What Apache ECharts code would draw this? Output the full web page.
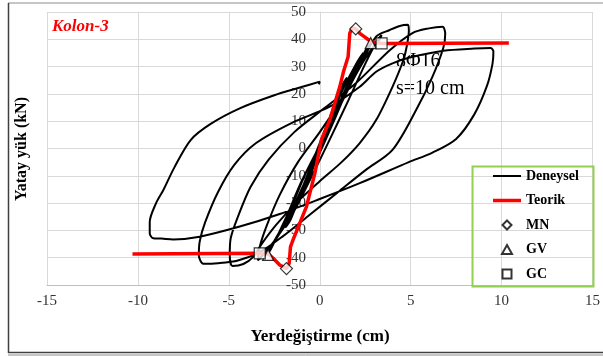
<!DOCTYPE html>
<html>
<head>
<meta charset="utf-8">
<script src="https://cdn.jsdelivr.net/npm/echarts@6/dist/echarts.min.js"></script>
<style>
html, body { margin: 0; padding: 0; background: #fff; }
#chart { width: 603px; height: 356px; }
</style>
</head>
<body>
<div id="chart"></div>
<script>
// Deneysel curve, [yerdegistirme cm, yuk kN], split by cycle
const smallCycles = [
  [0, 0], [0.3, 5], [0.7, 12], [0.9, 16], [0.6, 12], [0.1, 3], [-0.4, -6], [-0.8, -13], [-1.0, -17], [-0.7, -13], [-0.2, -4],
  [0.4, 8], [1.0, 18], [1.5, 26], [1.3, 24], [0.7, 14], [0, 2], [-0.7, -10], [-1.4, -22], [-1.9, -29], [-1.6, -26], [-0.9, -14], [-0.2, -2],
  [0.6, 11], [1.3, 22], [2.0, 31], [2.4, 35], [2.1, 32], [1.3, 20], [0.4, 6], [-0.6, -9], [-1.5, -22], [-2.2, -31], [-2.7, -36], [-2.4, -33], [-1.6, -22], [-0.7, -8],
  [0.3, 5], [1.1, 17], [1.9, 28], [2.5, 35], [2.8, 38.5], [2.6, 37], [1.8, 26], [0.9, 12], [-0.1, -3], [-1.1, -17], [-2.0, -28], [-2.6, -35], [-2.9, -39], [-2.7, -37], [-1.9, -26], [-1.0, -12],
  [0, 1], [1.0, 14], [1.9, 26], [2.7, 35], [3.3, 40], [3.4, 41.5], [3.2, 40], [2.5, 31], [1.6, 18], [0.6, 4], [-0.5, -11], [-1.5, -24], [-2.4, -33], [-3.0, -38], [-3.4, -41]
]
const cycle1 = [
  [-3.3, -36], [-2.9, -28], [-2.2, -17], [-1.2, -5], [0, 6], [1.2, 18], [2.2, 30], [3.1, 41], [3.85, 43.4], [4.4, 44.9], [4.85, 45.3],
  [4.9, 43], [4.8, 38], [4.6, 32.4], [4.0, 22.6], [3.1, 10.4], [2.2, 2], [1.2, -5], [0, -12], [-1.3, -20], [-2.4, -28], [-3.2, -35], [-3.7, -40], [-4.2, -42.3], [-4.8, -43]
]
const cycle2 = [
  [-4.95, -39], [-4.9, -33], [-4.5, -25], [-3.8, -14], [-2.8, -4], [-1.4, 6], [0.3, 15], [2, 24], [3.85, 36], [5.1, 42.3], [6.0, 44], [6.75, 44.6],
  [6.9, 42], [6.8, 37], [6.2, 26.3], [5.3, 14.1], [4.0, -0.5], [2.5, -8], [1, -16], [-0.5, -24], [-2, -32], [-3.3, -38], [-4.5, -41], [-5.6, -42], [-6.4, -42.2]
]
const cycle3 = [
  [-6.65, -39], [-6.6, -34], [-6.3, -27], [-5.6, -16], [-4.7, -6], [-3.5, 2], [-1.5, 9.5], [0.55, 15.3], [2.2, 22.6], [3.1, 28.1], [4.0, 31.2], [4.95, 33.3], [6.8, 35.8], [8.5, 36.6], [9.4, 36.8],
  [9.55, 35.5], [9.5, 31], [9.2, 23], [8.5, 12.5], [7.5, 3.5], [6.2, -1.5], [4.9, -5], [2.2, -12.7], [0, -18.5], [-2.2, -24], [-4.4, -28.6], [-6.6, -32.3], [-8.06, -33.3], [-8.7, -33], [-9.16, -32.9],
  [-9.35, -31], [-9.35, -27], [-9.0, -20], [-8.6, -15.2], [-8.0, -7], [-7.1, 3.1], [-6.0, 9], [-4.4, 14.7], [-2.5, 19.5], [-1, 22.5], [0, 24.5], [-0.05, 23.5]
]
const teorik = [
  [-10.3, -38.6], [-3.3, -38.4], [-2.8, -38.8], [-2.56, -40.2], [-2.2, -42.7], [-1.83, -44], [-1.68, -42], [-1.61, -36], [-1.47, -33.5],
  [-0.73, -21.3], [-0.27, -9.1], [0.09, 3.1], [0.55, 10.4], [1.1, 22.6], [1.3, 28], [1.56, 33.6], [1.65, 42.2], [1.8, 44.2], [1.98, 43.8],
  [2.2, 42.2], [2.56, 40.4], [2.84, 39.1], [3.4, 38.5], [10.4, 38.6]
]
const mnPoints = [[1.98, 43.8], [-1.83, -44]]
const gvPoints = [[2.8, 38.6], [-2.84, -39]]
const gcPoints = [[3.4, 38.5], [-3.3, -38.4]]

const deneysel = smallCycles.concat(cycle1, cycle2, cycle3)

const serif = 'Liberation Serif'
const chart = echarts.init(document.getElementById('chart'))

const markerStyle = { color: '#fff', borderColor: '#000', borderWidth: 1.2 }

const option = {
  animation: false,
  grid: { left: 47, right: 10, top: 12, bottom: 71 },
  xAxis: {
    type: 'value',
    min: -15,
    max: 15,
    interval: 5,
    axisLine: { onZero: false, lineStyle: { color: '#bfbfbf' } },
    axisTick: { show: false },
    axisLabel: { color: '#333', fontFamily: serif, fontSize: 15, margin: 9 },
    splitLine: { lineStyle: { color: '#d9d9d9' } }
  },
  yAxis: {
    type: 'value',
    min: -50,
    max: 50,
    interval: 10,
    offset: -273, // put the axis at x = 0
    axisLine: { show: true, onZero: false, lineStyle: { color: '#d9d9d9' } },
    axisTick: { show: false },
    axisLabel: { color: '#333', fontFamily: serif, fontSize: 15, margin: 14 },
    splitLine: { lineStyle: { color: '#d9d9d9' } }
  },
  legend: {
    orient: 'vertical',
    left: 488,
    top: 164,
    itemWidth: 28,
    itemHeight: 9,
    itemGap: 10.5,
    symbolKeepAspect: true,
    textStyle: { fontFamily: serif, fontWeight: 'bold', fontSize: 14, color: '#000' },
    data: [
      { name: 'Deneysel', icon: 'path://M0,0L28,0L28,2L0,2Z' },
      { name: 'Teorik', icon: 'path://M0,0L28,0L28,3.5L0,3.5Z' },
      { name: 'MN', icon: 'path://M5,0L10,5L5,10L0,5Z' },
      { name: 'GV', icon: 'path://M5,0L10,9L0,9Z' },
      { name: 'GC', icon: 'path://M0,0L9,0L9,9L0,9Z' }
    ]
  },
  graphic: [
    // outer chart frame
    { type: 'line', shape: { x1: 8, y1: 3, x2: 603, y2: 3 }, style: { stroke: '#8c8c8c', lineWidth: 1 } },
    { type: 'line', shape: { x1: 8.5, y1: 3, x2: 8.5, y2: 353 }, style: { stroke: '#404040', lineWidth: 1.5 } },
    { type: 'line', shape: { x1: 8, y1: 352.5, x2: 603, y2: 352.5 }, style: { stroke: '#404040', lineWidth: 1.5 } },
    { type: 'line', shape: { x1: 8, y1: 355, x2: 603, y2: 355 }, style: { stroke: '#8c8c8c', lineWidth: 1 } },
    // legend box
    { type: 'rect', shape: { x: 472.5, y: 166.5, width: 121, height: 120 }, style: { fill: 'none', stroke: '#92d050', lineWidth: 2 }, z: 10 },
    {
      type: 'text', x: 52, y: 27,
      style: { text: 'Kolon-3', fill: '#ff0000', font: 'italic bold 17px "Liberation Serif"', textVerticalAlign: 'middle' }
    },
    {
      type: 'text', x: 396, y: 62,
      style: { text: '8Φ16', fill: '#000', font: '20px "Liberation Serif"', textVerticalAlign: 'middle' }
    },
    {
      type: 'text', x: 396, y: 89,
      style: { text: 's=10 cm', fill: '#000', font: '20px "Liberation Serif"', textVerticalAlign: 'middle' }
    },
    {
      type: 'text', x: 22, y: 149, rotation: Math.PI / 2,
      style: { text: 'Yatay yük (kN)', fill: '#000', font: 'bold 16px "Liberation Serif"', textAlign: 'center', textVerticalAlign: 'middle' }
    },
    {
      type: 'text', x: 320, y: 337,
      style: { text: 'Yerdeğiştirme (cm)', fill: '#000', font: 'bold 17px "Liberation Serif"', textAlign: 'center', textVerticalAlign: 'middle' }
    }
  ],
  series: [
    {
      name: 'Deneysel',
      type: 'line',
      data: deneysel,
      symbol: 'none',
      smooth: 0.3,
      lineStyle: { color: '#000', width: 2 },
      itemStyle: { color: '#000' }
    },
    {
      name: 'Teorik',
      type: 'line',
      data: teorik,
      symbol: 'none',
      lineStyle: { color: '#ff0000', width: 3.5 },
      itemStyle: { color: '#ff0000' }
    },
    { name: 'MN', type: 'scatter', data: mnPoints, symbol: 'diamond', symbolSize: 12, itemStyle: markerStyle, z: 5 },
    { name: 'GV', type: 'scatter', data: gvPoints, symbol: 'triangle', symbolSize: 11, itemStyle: markerStyle, z: 5 },
    { name: 'GC', type: 'scatter', data: gcPoints, symbol: 'rect', symbolSize: 11, itemStyle: markerStyle, z: 5 }
  ]
}

chart.setOption(option)
</script>
</body>
</html>
